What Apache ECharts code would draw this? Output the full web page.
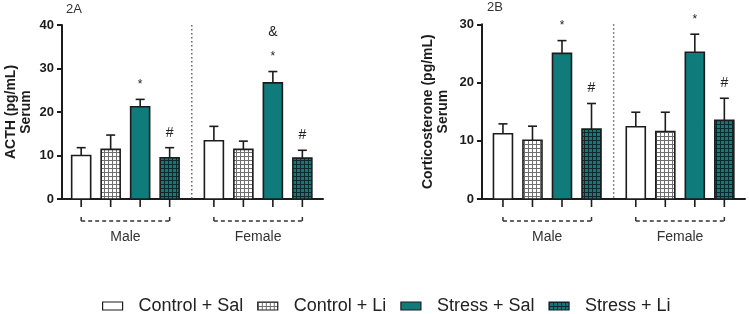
<!DOCTYPE html>
<html>
<head>
<meta charset="utf-8">
<script src="https://cdn.jsdelivr.net/npm/echarts@6/dist/echarts.min.js"></script>
<style>
  html, body { margin: 0; padding: 0; background: #fff; }
  #chart { width: 749px; height: 314px; }
</style>
</head>
<body>
<div id="chart"></div>
<script>
// treatment groups, each array below is [male, female]
const groups = ['Control + Sal', 'Control + Li', 'Stress + Sal', 'Stress + Li'];
const sexes = ['Male', 'Female'];

// 2A - ACTH (pg/mL)
const acthMean = [[10.0, 13.4], [11.4, 11.4], [21.2, 26.7], [9.5, 9.4]];
const acthErr = [[1.8, 3.3], [3.3, 1.9], [1.7, 2.6], [2.3, 1.8]];
const acthMarks = [['', ''], ['', ''], ['*', '&\n*'], ['#', '#']];

// 2B - Corticosterone (pg/mL)
const cortMean = [[11.2, 12.4], [10.1, 11.6], [25.0, 25.2], [12.0, 13.5]];
const cortErr = [[1.7, 2.5], [2.4, 3.3], [2.2, 3.1], [4.4, 3.8]];
const cortMarks = [['', ''], ['', ''], ['*', '*'], ['#', '#']];

const acthTicks = [0, 10, 20, 30, 40];
const cortTicks = [0, 10, 20, 30];

const TEAL = '#0f7b7a';
const INK = '#1c1c1c';
const FONT = 'Liberation Sans, Arial, sans-serif';

function gridPattern(bg, line, step) {
    const c = document.createElement('canvas');
    c.width = c.height = step;
    const ctx = c.getContext('2d');
    ctx.fillStyle = bg;
    ctx.fillRect(0, 0, step, step);
    ctx.fillStyle = line;
    ctx.fillRect(0, 0, step, 1);
    ctx.fillRect(0, 0, 1, step);
    return {image: c, repeat: 'repeat'};
}

const fills = [
    '#ffffff',
    gridPattern('#ffffff', '#707070', 4),
    TEAL,
    gridPattern(TEAL, '#0c2a2a', 4)
];

// x position of a bar: groups 1..4 for males, then a 1.5 gap for females
const xPos = (g, s) => g + 1 + s * 4.5;

function barRender(fill) {
    return (params, api) => {
        const x = api.value(0), m = api.value(1), e = api.value(2);
        const marks = String(api.value(3) || '');
        const base = api.coord([x, 0]);
        const top = api.coord([x, m]);
        const et = api.coord([x, m + e]);
        const hw = 9.5;
        const children = [
            {type: 'line', shape: {x1: base[0], y1: top[1], x2: base[0], y2: et[1]},
             style: {stroke: INK, lineWidth: 1.6}},
            {type: 'line', shape: {x1: base[0] - 4.5, y1: et[1], x2: base[0] + 4.5, y2: et[1]},
             style: {stroke: INK, lineWidth: 1.6}},
            {type: 'rect', shape: {x: base[0] - hw, y: top[1], width: hw * 2, height: base[1] - top[1]},
             style: {fill: fill, stroke: INK, lineWidth: 1.6}},
            {type: 'line', shape: {x1: base[0], y1: base[1], x2: base[0], y2: base[1] + 8},
             style: {stroke: INK, lineWidth: 1.6}}
        ];
        const lines = marks ? marks.split('\n').reverse() : [];
        lines.forEach((t, i) => {
            children.push({type: 'text', x: base[0], y: et[1] - 15 - i * 24,
                style: {text: t, fontSize: t === '*' ? 12 : 14, fill: '#222', fontFamily: FONT,
                        align: 'center', verticalAlign: 'middle'}});
        });
        return {type: 'group', children};
    };
}

function dividerRender(ymax) {
    return (params, api) => {
        const a = api.coord([api.value(0), ymax]);
        const b = api.coord([api.value(0), 0]);
        return {type: 'line', shape: {x1: a[0], y1: a[1], x2: b[0], y2: b[1]},
                style: {stroke: '#666', lineWidth: 1.5, lineDash: [1.5, 2.5]}};
    };
}

function bracketRender(params, api) {
    const p1 = api.coord([api.value(0), 0]);
    const p2 = api.coord([api.value(1), 0]);
    const y = p1[1] + 22;
    const st = {stroke: '#333', lineWidth: 1.5};
    return {type: 'group', children: [
        {type: 'line', shape: {x1: p1[0], y1: y - 4, x2: p1[0], y2: y}, style: st},
        {type: 'line', shape: {x1: p2[0], y1: y - 4, x2: p2[0], y2: y}, style: st},
        {type: 'line', shape: {x1: p1[0], y1: y, x2: p2[0], y2: y},
         style: {stroke: '#333', lineWidth: 1.5, lineDash: [4, 3]}},
        {type: 'text', x: (p1[0] + p2[0]) / 2, y: y + 16,
         style: {text: sexes[params.dataIndex], fontSize: 14, fill: '#333', fontFamily: FONT,
                 align: 'center', verticalAlign: 'middle'}}
    ]};
}

function panelSeries(p, mean, err, marks, ymax) {
    const out = groups.map((name, g) => ({
        type: 'custom',
        name: name,
        xAxisIndex: p,
        yAxisIndex: p,
        itemStyle: {color: fills[g], borderColor: INK, borderWidth: 1.2},
        renderItem: barRender(fills[g]),
        data: sexes.map((s, i) => [xPos(g, i), mean[g][i], err[g][i], marks[g][i]]),
        z: 3
    }));
    out.push({type: 'custom', xAxisIndex: p, yAxisIndex: p, silent: true,
              renderItem: dividerRender(ymax), data: [[4.75]], z: 2});
    out.push({type: 'custom', xAxisIndex: p, yAxisIndex: p, silent: true,
              renderItem: bracketRender, data: [[xPos(0, 0), xPos(3, 0)], [xPos(0, 1), xPos(3, 1)]], z: 2});
    return out;
}

function yAxis(p, name, ticks, gap) {
    return {
        type: 'value', gridIndex: p,
        min: ticks[0], max: ticks[ticks.length - 1], interval: ticks[1] - ticks[0],
        name: name, nameLocation: 'middle', nameRotate: 90, nameGap: gap,
        nameTextStyle: {fontSize: 14, fontWeight: 'bold', color: INK, lineHeight: 15, fontFamily: FONT},
        axisLine: {show: true, lineStyle: {color: INK, width: 2}},
        axisTick: {show: true, length: 5, lineStyle: {color: INK, width: 2}},
        axisLabel: {fontSize: 13, fontWeight: 'bold', color: INK, margin: 8, fontFamily: FONT},
        splitLine: {show: false}
    };
}

function xAxis(p, min) {
    return {
        type: 'value', gridIndex: p, min: min, max: 9.2,
        axisLine: {show: true, onZero: false, lineStyle: {color: INK, width: 2}},
        axisTick: {show: false}, axisLabel: {show: false}, splitLine: {show: false}
    };
}

const chart = echarts.init(document.getElementById('chart'), null, {renderer: 'canvas'});
chart.setOption({
    animation: false,
    backgroundColor: '#fff',
    title: [
        {text: '2A', left: 66, top: 3, padding: 0,
         textStyle: {fontSize: 13, fontWeight: 'normal', color: '#333', fontFamily: FONT}},
        {text: '2B', left: 487, top: 1, padding: 0,
         textStyle: {fontSize: 13, fontWeight: 'normal', color: '#333', fontFamily: FONT}}
    ],
    grid: [
        {left: 62, top: 25, width: 261, height: 174},
        {left: 482, top: 24.3, width: 263, height: 174.7}
    ],
    xAxis: [xAxis(0, 0.35), xAxis(1, 0.29)],
    yAxis: [
        yAxis(0, 'ACTH (pg/mL)\nSerum', acthTicks, 28),
        yAxis(1, 'Corticosterone (pg/mL)\nSerum', cortTicks, 31)
    ],
    legend: {
        left: 102, top: 297, padding: 0,
        icon: 'rect', itemWidth: 20, itemHeight: 8, itemGap: 14,
        data: groups.map((g, i) => ({name: g, itemStyle: {color: fills[i], borderColor: INK, borderWidth: 1.2}})),
        textStyle: {fontSize: 18, color: '#222', padding: [0, 0, 0, 11], fontFamily: FONT}
    },
    series: [
        ...panelSeries(0, acthMean, acthErr, acthMarks, acthTicks[acthTicks.length - 1]),
        ...panelSeries(1, cortMean, cortErr, cortMarks, cortTicks[cortTicks.length - 1])
    ]
});
</script>
</body>
</html>
